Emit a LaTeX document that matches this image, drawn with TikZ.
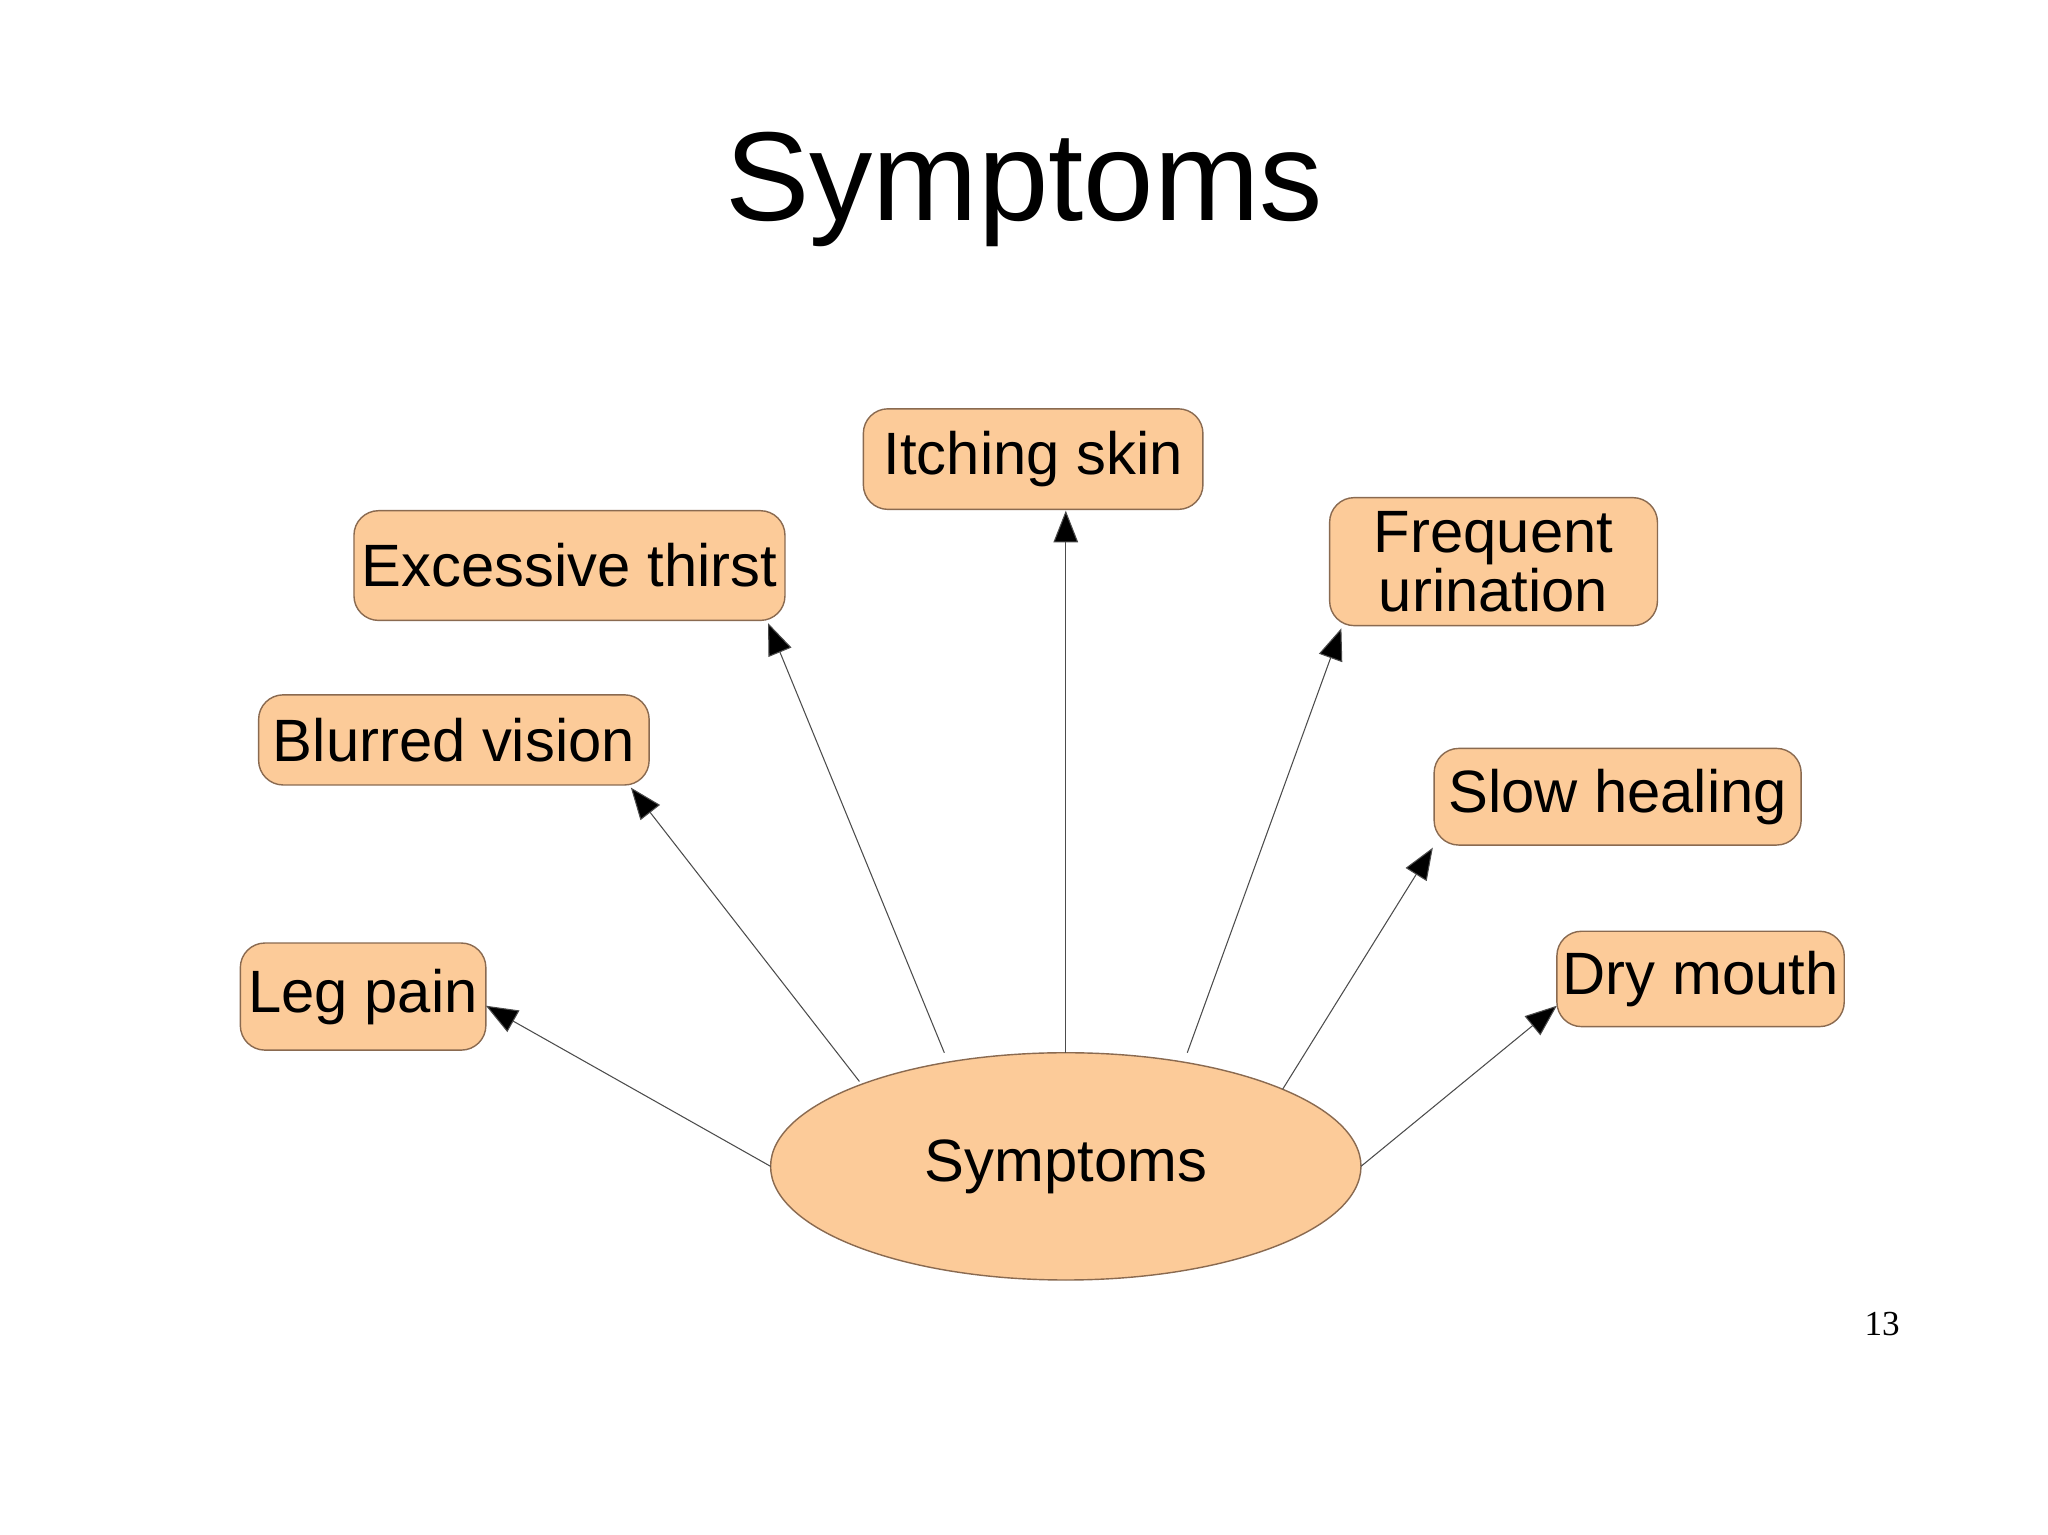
\documentclass[tikz,border=0pt]{standalone}
\usepackage{fontspec}
\setmainfont{Liberation Sans}
\newfontfamily\seriffont{Liberation Serif}
\usetikzlibrary{shapes.geometric,arrows.meta}
\definecolor{boxfill}{HTML}{FCCB99}
\definecolor{boxline}{HTML}{8A6A50}
\begin{document}
\begin{tikzpicture}[x=0.013061cm,y=-0.013061cm,
  box/.style={draw=boxline,line width=0.4pt,fill=boxfill,rounded corners=7pt,inner sep=0pt,font=\fontsize{17}{19}\selectfont,align=center},
  arr/.style={draw=black!70,line width=0.3pt,-{Triangle[length=9pt,width=7pt,fill=black]}}]
\useasboundingbox[fill=white] (0,0) rectangle (1568,1175);
\node[font=\fontsize{36}{40}\selectfont] (title) at (784,145) {Symptoms};
\node[box,minimum width=260*0.013061cm,minimum height=77*0.013061cm] (itch) at (791,351.5) {Itching skin};
\node[box,minimum width=330*0.013061cm,minimum height=84*0.013061cm] (thirst) at (436,433) {Excessive thirst};
\node[box,minimum width=251*0.013061cm,minimum height=98*0.013061cm] (freq) at (1143.5,430) {Frequent\\[-2pt]urination};
\node[box,minimum width=299*0.013061cm,minimum height=69*0.013061cm] (blur) at (347.5,566.5) {Blurred vision};
\node[box,minimum width=281*0.013061cm,minimum height=74*0.013061cm] (slow) at (1238.5,610) {Slow healing};
\node[box,minimum width=188*0.013061cm,minimum height=82*0.013061cm] (leg) at (278,763) {Leg pain};
\node[box,minimum width=220*0.013061cm,minimum height=73*0.013061cm] (dry) at (1302,749.5) {Dry mouth};
\node[ellipse,draw=boxline,line width=0.4pt,fill=boxfill,minimum width=452*0.013061cm,minimum height=174*0.013061cm,inner sep=0pt,font=\fontsize{17}{19}\selectfont] (sym) at (816,893) {Symptoms};
\node[font=\seriffont\fontsize{10}{12}\selectfont] (pg) at (1441,1014) {13};
\coordinate (sLeg) at (590,893);
\coordinate (sBlur) at (658,828);
\coordinate (sThirst) at (723,806);
\coordinate (sItch) at (816,806);
\coordinate (sFreq) at (909,806);
\coordinate (sSlow) at (982,834);
\coordinate (sDry) at (1042,893);
\coordinate (eLeg) at (372,770);
\coordinate (eBlur) at (483,603);
\coordinate (eThirst) at (588,477);
\coordinate (eItch) at (816,391);
\coordinate (eFreq) at (1027,481);
\coordinate (eSlow) at (1097,649);
\coordinate (eDry) at (1192,770);
\draw[arr] (sLeg) -- (eLeg);
\draw[arr] (sBlur) -- (eBlur);
\draw[arr] (sThirst) -- (eThirst);
\draw[arr] (sItch) -- (eItch);
\draw[arr] (sFreq) -- (eFreq);
\draw[arr] (sSlow) -- (eSlow);
\draw[arr] (sDry) -- (eDry);
\end{tikzpicture}
\end{document}
